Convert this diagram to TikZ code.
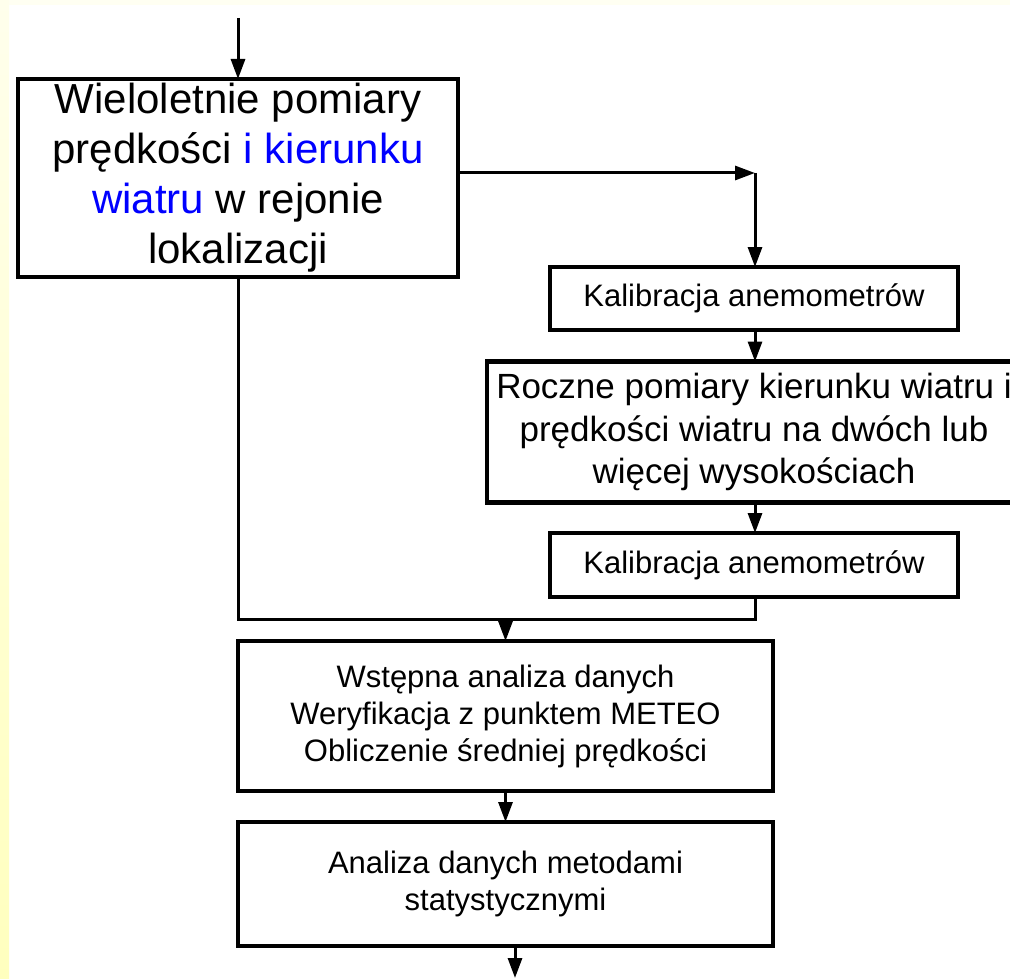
\documentclass[tikz,border=0pt]{standalone}
\usepackage{fontspec}
\setmainfont{Liberation Sans}
\usetikzlibrary{arrows.meta}
\definecolor{txtblue}{RGB}{0,0,255}
\definecolor{stripTop}{RGB}{255,255,236}
\definecolor{stripBot}{RGB}{255,255,190}
\definecolor{topStrip}{RGB}{255,255,242}
\tikzset{
  boxnode/.style={draw=black, line width=4.5pt, fill=white, inner sep=0pt, outer sep=0pt, align=center, rectangle},
  conn/.style={line width=3pt, draw=black},
  arr/.style={conn, -{Triangle[length=20pt,width=14pt]}},
  bigtext/.style={font=\fontsize{42}{50}\selectfont},
  midtext/.style={font=\fontsize{35}{42.5}\selectfont},
  smalltext/.style={font=\fontsize{31}{37}\selectfont}
}
\begin{document}
\begin{tikzpicture}[x=1pt,y=-1pt]
\useasboundingbox (0,0) rectangle (1010,979);
\fill[white] (0,0) rectangle (1010,979);
\fill[topStrip] (0,0) rectangle (1010,5);
\shade[top color=stripTop, bottom color=stripBot] (0,0) rectangle (9,979);

\node[boxnode, bigtext, minimum width=440pt, minimum height=198pt] (b1) at (238,178)
  {Wieloletnie pomiary\\prędkości \textcolor{txtblue}{i kierunku}\\\textcolor{txtblue}{wiatru} w rejonie\\lokalizacji};
\node[boxnode, smalltext, minimum width=408pt, minimum height=63pt] (b2) at (754,298.5)
  {Kalibracja anemometrów};
\node[boxnode, midtext, minimum width=534pt, minimum height=141pt] (b3) at (754,432)
  {Roczne pomiary kierunku wiatru i\\prędkości wiatru na dwóch lub\\więcej wysokościach};
\node[boxnode, smalltext, minimum width=408pt, minimum height=64pt] (b4) at (754,565)
  {Kalibracja anemometrów};
\node[boxnode, smalltext, minimum width=535pt, minimum height=150pt] (b5) at (505.5,716)
  {Wstępna analiza danych\\Weryfikacja z punktem METEO\\Obliczenie średniej prędkości};
\node[boxnode, smalltext, minimum width=535pt, minimum height=124pt] (b6) at (505.5,884)
  {Analiza danych metodami\\statystycznymi};

\coordinate (top) at (238,18);
\coordinate (br) at (755,173);
\coordinate (m) at (505.5,619);
\coordinate (endc) at (515,978);

\draw[arr] (top) -- (b1.north);
\draw[arr] (b1.east |- br) -- (br);
\draw[arr] (br) -- (b2.north -| br);
\draw[arr] (b2.south -| br) -- (b3.north -| br);
\draw[arr] (b3.south -| br) -- (b4.north -| br);
\draw[conn] (b1.south) |- (m);
\draw[conn] (b4.south -| br) |- (m);
\draw[arr] (m) -- (b5.north);
\draw[arr] (b5.south) -- (b6.north);
\draw[arr] (b6.south -| endc) -- (endc);
\end{tikzpicture}
\end{document}
